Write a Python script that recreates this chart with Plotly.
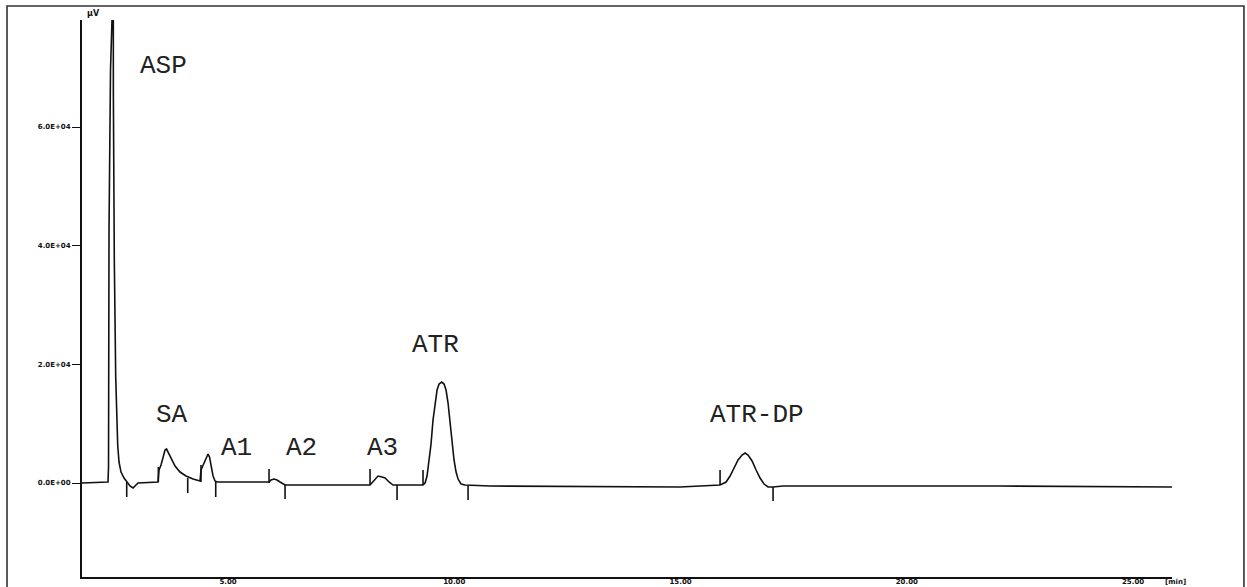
import plotly.graph_objects as go

# Chromatogram trace (time in min, signal in µV)
time_min = [1.773, 2.348, 2.359, 2.370, 2.403, 2.436, 2.465, 2.466, 2.487, 2.518, 2.562, 2.591, 2.635,
            2.702, 2.768, 2.834, 2.901, 2.967, 3.011,
            3.453, 3.475, 3.519, 3.564, 3.608, 3.641, 3.674, 3.740, 3.829, 3.939, 4.072, 4.227, 4.381,
            4.403, 4.448, 4.492, 4.536, 4.558, 4.591, 4.624, 4.669, 4.713, 4.757,
            5.906, 5.950, 6.017, 6.083, 6.149, 6.215, 6.260,
            8.138, 8.227, 8.315, 8.403, 8.470, 8.558, 8.646,
            9.309, 9.354, 9.398, 9.442, 9.486, 9.530, 9.575, 9.619, 9.663, 9.723, 9.773, 9.818,
            9.862, 9.906, 9.950, 9.994, 10.039, 10.083, 10.149, 10.238,
            10.790, 14.989,
            15.873, 16.006, 16.094, 16.182, 16.271, 16.359, 16.425, 16.492, 16.580, 16.669, 16.757,
            16.845, 16.934, 17.044, 17.265, 22.061, 25.928]
signal_uv = [0, 170, 2700, 42630, 69590, 78020, 78020, 65720, 37580, 17860, 6400, 3540, 1850,
             840, 170, -506, -843, -337, 0,
             170, 2190, 3030, 4380, 5560, 5730, 5220, 4210, 2860, 1850, 1180, 670, 340,
             2190, 3030, 3880, 4720, 4890, 4380, 2860, 1180, 340, 170,
             170, 510, 670, 510, 170, -170, -337,
             -337, 510, 1180, 1010, 840, 170, -337,
             -337, 0, 1180, 3540, 6570, 10620, 13650, 15670, 16680, 17020, 16680, 15670,
             13480, 10280, 6910, 3880, 1850, 670, -170, -337,
             -506, -674,
             -337, 170, 1180, 2530, 3880, 4720, 5060, 4720, 3710, 2190, 840,
             -170, -670, -670, -506, -506, -674]

# Integration markers (time, top, bottom)
marker_time = [2.761, 4.109, 4.728, 6.260, 8.735, 10.304, 17.044,
               3.460, 4.403, 5.906, 8.138, 9.309, 15.873]
marker_top = [170, 840, 170, -340, -340, -340, -670,
              2700, 3030, 2360, 2360, 2190, 2190]
marker_bottom = [-2360, -1690, -2360, -2700, -2860, -2860, -3030,
                 170, 170, 0, -340, -340, -340]

# Peak labels
peak_names = ["ASP", "SA", "A1", "A2", "A3", "ATR", "ATR-DP"]
peak_label_t = [3.564, 3.762, 5.177, 6.613, 8.403, 9.575, 16.69]
peak_label_v = [70260, 11460, 5900, 5900, 5900, 23250, 11460]

y_tickvals = [0, 20000, 40000, 60000]
y_ticktext = ["0.0E+00", "2.0E+04", "4.0E+04", "6.0E+04"]
x_tickvals = [5, 10, 15, 20, 25]
x_ticktext = ["5.00", "10.00", "15.00", "20.00", "25.00"]

mx, my = [], []
for t, a, b in zip(marker_time, marker_top, marker_bottom):
    mx += [t, t, None]
    my += [a, b, None]

fig = go.Figure()
fig.add_trace(go.Scatter(x=time_min, y=signal_uv, mode="lines",
                         line=dict(color="#111111", width=1.6), hoverinfo="skip"))
fig.add_trace(go.Scatter(x=mx, y=my, mode="lines",
                         line=dict(color="#111111", width=1.6), hoverinfo="skip"))

for name, t, v in zip(peak_names, peak_label_t, peak_label_v):
    fig.add_annotation(x=t, y=v, text=name, showarrow=False,
                       font=dict(family="Courier New, Liberation Mono, monospace", size=26, color="#222222"))

fig.add_annotation(xref="paper", yref="paper", x=0.003, y=1.0, xanchor="left", yanchor="bottom",
                   text="µV", showarrow=False,
                   font=dict(family="DejaVu Sans", size=8, color="#111111", weight="bold"))
fig.add_annotation(xref="paper", yref="paper", x=0.992, y=0.0, xanchor="left", yanchor="top",
                   text="[min]", showarrow=False, yshift=1,
                   font=dict(family="DejaVu Sans", size=7, color="#111111", weight="bold"))

# outer frame
fig.add_shape(type="rect", xref="paper", yref="paper", x0=-0.0688, x1=1.066, y0=-0.06, y1=1.0251,
              line=dict(color="#333333", width=1.6), layer="below")

fig.update_layout(
    width=1247, height=587,
    margin=dict(l=82, r=75, t=20, b=10, autoexpand=False),
    paper_bgcolor="white", plot_bgcolor="white",
    showlegend=False,
    xaxis=dict(range=[1.773, 25.86], showgrid=False, zeroline=False, showline=True, automargin=False,
               linecolor="#111111", linewidth=2, ticks="", tickvals=x_tickvals, ticktext=x_ticktext,
               ticklabelstandoff=-3,
               tickfont=dict(family="DejaVu Sans", size=7, color="#111111", weight="bold")),
    yaxis=dict(range=[-15840, 78040], showgrid=False, zeroline=False, showline=True, automargin=False,
               linecolor="#111111", linewidth=2, ticks="outside", ticklen=8, tickwidth=1.2,
               tickcolor="#111111", tickvals=y_tickvals, ticktext=y_ticktext,
               tickfont=dict(family="DejaVu Sans", size=7, color="#111111", weight="bold")),
)

fig.write_html("out.html")
